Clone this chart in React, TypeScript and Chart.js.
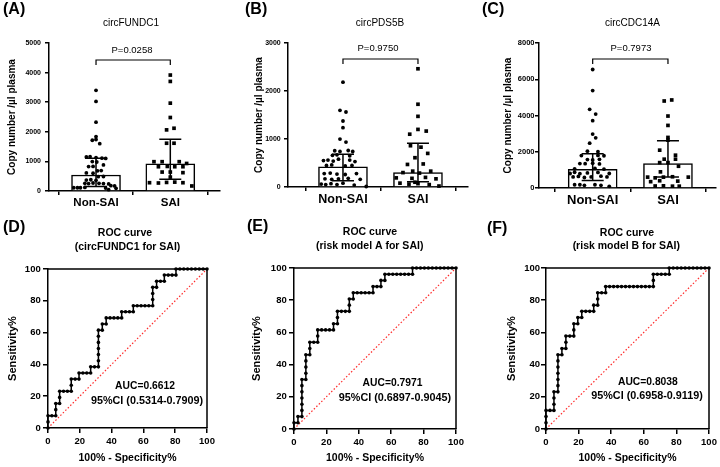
import React, { useEffect, useRef } from 'react';
import { Chart, registerables } from 'chart.js';

Chart.register(...registerables);
const FONT = "'Liberation Sans', Arial, Helvetica, sans-serif";
Chart.defaults.font.family = FONT;
Chart.defaults.color = '#000';

// ---------------- DATA ----------------
const groups = ['Non-SAI', 'SAI'];
const topYTitle = 'Copy number /µl plasma';
const rocXTitle = '100% - Specificity%';
const rocYTitle = 'Sensitivity%';

// Panel A  circFUNDC1
const aTitle = 'circFUNDC1';
const aP = 'P=0.0258';
const aYMax = 5000;
const aYStep = 1000;
const aNonSai: [number, number][] = [
  [1.0, 3400], [1.0, 3025], [1.0, 2325], [1.0, 1840], [0.95, 1715], [1.0, 1740], [1.05, 1600],
  [0.87, 1150], [0.92, 1160], [1.0, 1130], [1.08, 1110], [1.13, 1100],
  [0.95, 995], [1.01, 980], [1.1, 880], [0.9, 825], [0.96, 830],
  [1.02, 680], [1.07, 690], [0.87, 610], [0.96, 600], [1.03, 485],
  [1.1, 490], [0.87, 370], [0.93, 380], [1.0, 360],
  [0.85, 260], [0.9, 250], [0.96, 270], [1.04, 260], [1.1, 250], [1.17, 240],
  [1.2, 180], [1.25, 170],
  [0.7, 110], [0.75, 110], [0.79, 110], [0.85, 120], [1.13, 100], [1.27, 90],
  [1.17, 45],
];
const aSai: [number, number][] = [
  [2.0, 3917], [2.0, 3702], [2.0, 2968], [2.0, 2483], [2.05, 2120], [1.95, 2065], [1.95, 1614], [2.05, 1614],
  [1.78, 990], [1.89, 990], [2.12, 990], [2.22, 930], [1.84, 820], [1.96, 830], [2.06, 820], [2.17, 820],
  [1.89, 640], [2.0, 640], [2.17, 620], [1.72, 280], [1.84, 270], [1.95, 290], [2.06, 300], [2.17, 280],
  [2.29, 170], [2.0, 470],
];
const aMedian = [540, 914];
const aQ1 = [150, 395];
const aQ3 = [1106, 1750];

// Panel B  circPDS5B
const bTitle = 'circPDS5B';
const bP = 'P=0.9750';
const bYMax = 3000;
const bYStep = 1000;
const bNonSai: [number, number][] = [
  [1.0, 2184], [0.96, 1598], [1.04, 1563], [1.0, 1375], [1.0, 1235], [0.96, 998], [1.04, 935],
  [0.89, 755], [0.96, 740], [1.07, 760], [1.13, 740],
  [0.86, 660], [0.92, 670], [1.09, 650],
  [0.74, 550], [0.8, 560], [0.87, 540], [0.94, 580], [1.09, 560], [1.16, 530],
  [0.78, 450], [0.85, 460], [1.03, 440], [1.12, 450],
  [0.75, 280], [0.83, 290], [0.92, 270], [1.03, 260], [1.18, 280],
  [0.76, 170], [0.85, 160], [0.94, 170], [1.07, 180], [1.23, 160],
  [0.71, 60], [0.77, 50], [0.84, 70], [0.92, 50], [1.0, 80], [1.15, 40], [1.31, 10],
];
const bSai: [number, number][] = [
  [2.0, 2463], [2.0, 1724], [2.0, 1472], [2.0, 1200], [2.11, 1165], [1.89, 1100],
  [1.9, 860], [2.04, 830], [2.13, 700], [1.96, 610], [1.86, 470], [2.07, 480],
  [2.17, 330], [1.93, 330], [1.8, 300], [2.02, 290], [1.71, 190], [1.92, 180],
  [2.1, 200], [2.24, 170], [1.76, 80], [1.88, 60], [2.0, 70], [2.15, 50], [2.28, 20], [1.96, 100],
];
const bMedian = [419, 300];
const bQ1 = [130, 110];
const bQ3 = [684, 914];

// Panel C  circCDC14A
const cTitle = 'circCDC14A';
const cP = 'P=0.7973';
const cYMax = 8000;
const cYStep = 2000;
const cNonSai: [number, number][] = [
  [1.0, 6537], [1.0, 5374], [0.96, 4340], [1.04, 4081], [1.0, 3712], [1.0, 2973], [1.04, 2770], [0.96, 2475],
  [0.93, 2030], [1.07, 2000],
  [0.85, 1790], [1.07, 1800], [1.15, 1780],
  [0.93, 1570], [1.0, 1550], [1.09, 1580],
  [0.83, 1350], [0.9, 1340], [1.0, 1370], [1.09, 1330],
  [0.76, 1060], [1.03, 1080], [1.15, 1040],
  [0.7, 800], [0.76, 870], [0.83, 790], [0.93, 830], [1.07, 860], [1.22, 800],
  [0.74, 610], [0.81, 640], [0.89, 580], [0.98, 610], [1.11, 650], [1.19, 610],
  [0.76, 180], [0.83, 180], [0.89, 150], [1.03, 180], [1.11, 150], [1.22, 90],
];
const cSai: [number, number][] = [
  [1.95, 4800], [2.05, 4857], [2.0, 3970], [2.0, 3453], [2.0, 2790], [2.0, 2640], [1.89, 2087], [2.1, 1810],
  [1.95, 1590], [2.1, 1590], [1.89, 1400], [2.0, 1400], [2.14, 1200], [1.9, 890],
  [1.73, 600], [1.83, 560], [1.94, 600], [2.06, 620], [2.27, 600],
  [1.77, 350], [1.89, 400], [2.13, 380],
  [1.83, 110], [1.94, 120], [2.06, 100], [2.15, 100],
];
const cMedian = [1034, 1348];
const cQ1 = [420, 610];
const cQ3 = [1884, 2604];

// ROC panels
const rocTickStep = 20;
const dTitle = ['ROC curve', '(circFUNDC1 for SAI)'];
const dAuc = ['AUC=0.6612', '95%CI (0.5314-0.7909)'];
const rocD: [number, number][] = [
  [0, 0], [0, 3.85], [0, 7.69], [2.44, 7.69], [4.88, 7.69], [4.88, 11.54], [4.88, 15.38], [7.32, 15.38],
  [7.32, 19.23], [7.32, 23.08], [9.76, 23.08], [12.2, 23.08], [14.63, 23.08], [14.63, 26.92], [14.63, 30.77],
  [17.07, 30.77], [19.51, 30.77], [19.51, 34.62], [21.95, 34.62], [24.39, 34.62], [26.83, 34.62], [26.83, 38.46],
  [29.27, 38.46], [31.71, 38.46], [31.71, 42.31], [31.71, 46.15], [31.71, 50], [31.71, 53.85], [31.71, 57.69],
  [31.71, 61.54], [34.15, 61.54], [34.15, 65.38], [36.59, 65.38], [36.59, 69.23], [39.02, 69.23], [41.46, 69.23],
  [43.9, 69.23], [46.34, 69.23], [46.34, 73.08], [48.78, 73.08], [51.22, 73.08], [53.66, 73.08], [53.66, 76.92],
  [56.1, 76.92], [58.54, 76.92], [60.98, 76.92], [63.41, 76.92], [65.85, 76.92], [65.85, 80.77], [65.85, 84.62],
  [65.85, 88.46], [68.29, 88.46], [68.29, 92.31], [70.73, 92.31], [73.17, 92.31], [73.17, 96.15], [75.61, 96.15],
  [78.05, 96.15], [80.49, 96.15], [80.49, 100], [82.93, 100], [85.37, 100], [87.8, 100], [90.24, 100],
  [92.68, 100], [95.12, 100], [97.56, 100], [100, 100],
];
const eTitle = ['ROC curve', '(risk model A for SAI)'];
const eAuc = ['AUC=0.7971', '95%CI (0.6897-0.9045)'];
const rocE: [number, number][] = [
  [0, 0], [0, 3.85], [2.44, 3.85], [2.44, 7.69], [4.88, 7.69], [4.88, 11.54], [4.88, 15.38], [4.88, 19.23],
  [4.88, 23.08], [4.88, 26.92], [4.88, 30.77], [7.32, 30.77], [7.32, 34.62], [7.32, 38.46], [7.32, 42.31],
  [7.32, 46.15], [9.76, 46.15], [9.76, 50], [9.76, 53.85], [12.2, 53.85], [14.63, 53.85], [14.63, 57.69],
  [14.63, 61.54], [17.07, 61.54], [19.51, 61.54], [21.95, 61.54], [24.39, 61.54], [24.39, 65.38], [26.83, 65.38],
  [26.83, 69.23], [26.83, 73.08], [29.27, 73.08], [31.71, 73.08], [34.15, 73.08], [34.15, 76.92], [34.15, 80.77],
  [36.59, 80.77], [36.59, 84.62], [39.02, 84.62], [41.46, 84.62], [43.9, 84.62], [46.34, 84.62], [48.78, 84.62],
  [48.78, 88.46], [51.22, 88.46], [53.66, 88.46], [53.66, 92.31], [56.1, 92.31], [56.1, 96.15], [58.54, 96.15],
  [60.98, 96.15], [63.41, 96.15], [65.85, 96.15], [68.29, 96.15], [70.73, 96.15], [73.17, 96.15], [73.17, 100],
  [75.61, 100], [78.05, 100], [80.49, 100], [82.93, 100], [85.37, 100], [87.8, 100], [90.24, 100], [92.68, 100],
  [95.12, 100], [97.56, 100], [100, 100],
];
const fTitle = ['ROC curve', '(risk model B for SAI)'];
const fAuc = ['AUC=0.8038', '95%CI (0.6958-0.9119)'];
const rocF: [number, number][] = [
  [0, 0], [0, 3.85], [0, 7.69], [0, 11.54], [2.44, 11.54], [4.88, 11.54], [4.88, 15.38], [4.88, 19.23],
  [4.88, 23.08], [7.32, 23.08], [7.32, 26.92], [7.32, 30.77], [7.32, 34.62], [7.32, 38.46], [7.32, 42.31],
  [7.32, 46.15], [9.76, 46.15], [9.76, 50], [12.2, 50], [12.2, 53.85], [12.2, 57.69], [14.63, 57.69],
  [17.07, 57.69], [17.07, 61.54], [17.07, 65.38], [19.51, 65.38], [19.51, 69.23], [21.95, 69.23], [21.95, 73.08],
  [24.39, 73.08], [26.83, 73.08], [29.27, 73.08], [29.27, 76.92], [31.71, 76.92], [31.71, 80.77], [31.71, 84.62],
  [34.15, 84.62], [36.59, 84.62], [36.59, 88.46], [39.02, 88.46], [41.46, 88.46], [43.9, 88.46], [46.34, 88.46],
  [48.78, 88.46], [51.22, 88.46], [53.66, 88.46], [56.1, 88.46], [58.54, 88.46], [60.98, 88.46], [63.41, 88.46],
  [65.85, 88.46], [65.85, 92.31], [65.85, 96.15], [68.29, 96.15], [70.73, 96.15], [73.17, 96.15], [75.61, 96.15],
  [75.61, 100], [78.05, 100], [80.49, 100], [82.93, 100], [85.37, 100], [87.8, 100], [90.24, 100], [92.68, 100],
  [95.12, 100], [97.56, 100], [100, 100],
];

// ---------------- LAYOUT / STYLE ----------------
type Box = { x: number; y: number; w: number; h: number };
type Area = { l: number; t: number; r: number; b: number };
type Txt = { t: string; x: number; y: number; size: number; bold?: boolean; align?: CanvasTextAlign; data?: boolean };

function drawTexts(chart: any, texts: Txt[], box: Box) {
  const ctx = chart.ctx;
  ctx.save();
  ctx.fillStyle = '#000';
  ctx.textBaseline = 'middle';
  for (const t of texts) {
    ctx.font = `${t.bold ? 'bold ' : ''}${t.size}px ${FONT}`;
    ctx.textAlign = t.align || 'center';
    let x = t.x - box.x;
    let y = t.y - box.y;
    if (t.data) {
      x = chart.scales.x.getPixelForValue(t.x);
      y = chart.scales.y.getPixelForValue(t.y);
    }
    ctx.fillText(t.t, x, y);
  }
  ctx.restore();
}

const border = { display: true, color: '#000', width: 1.5 };
const grid = (tl: number) => ({ drawOnChartArea: false, drawTicks: true, tickLength: tl, color: '#000', lineWidth: 1.5 });

type TopSpec = {
  box: Box; area: Area; xMin: number; xMax: number; yMax: number; yStep: number;
  non: [number, number][]; sai: [number, number][]; med: number[]; q1: number[]; q3: number[];
  texts: Txt[]; bracketY: number; tickSize: number; tickPad: number; catSize: number; catPad: number; yTitlePad: number;
};

function topConfig(s: TopSpec): any {
  const L = s.area.l - s.box.x, T = s.area.t - s.box.y, R = s.area.r - s.box.x, B = s.area.b - s.box.y;
  const annot = {
    id: 'annotTop',
    afterDatasetsDraw(chart: any) {
      const ctx = chart.ctx;
      const xs = chart.scales.x, ys = chart.scales.y;
      ctx.save();
      ctx.strokeStyle = '#000';
      ctx.lineWidth = 1.5;
      for (let i = 0; i < 2; i++) {
        const cx = xs.getPixelForValue(i + 1);
        const y1 = ys.getPixelForValue(s.q1[i]);
        const y3 = ys.getPixelForValue(s.q3[i]);
        ctx.beginPath();
        ctx.moveTo(cx, y1); ctx.lineTo(cx, y3);
        ctx.moveTo(cx - 11, y1); ctx.lineTo(cx + 11, y1);
        ctx.moveTo(cx - 11, y3); ctx.lineTo(cx + 11, y3);
        ctx.stroke();
      }
      const by = s.bracketY - s.box.y;
      const x1 = xs.getPixelForValue(1), x2 = xs.getPixelForValue(2);
      ctx.lineWidth = 1.2;
      ctx.beginPath();
      ctx.moveTo(x1, by + 5); ctx.lineTo(x1, by); ctx.lineTo(x2, by); ctx.lineTo(x2, by + 5);
      ctx.stroke();
      ctx.restore();
    },
    afterDraw(chart: any) { drawTexts(chart, s.texts, s.box); },
  };
  return {
    type: 'bar',
    data: {
      datasets: [
        { type: 'bar', data: s.med.map((v, i) => ({ x: i + 1, y: v })), backgroundColor: '#fff', borderColor: '#000', borderWidth: 1.5, barThickness: 49, order: 3 },
        { type: 'scatter', data: s.non.map(([x, y]) => ({ x, y })), pointStyle: 'circle', pointRadius: 1.9, backgroundColor: '#000', borderColor: '#000', borderWidth: 0, order: 1, clip: false },
        { type: 'scatter', data: s.sai.map(([x, y]) => ({ x, y })), pointStyle: 'rect', pointRadius: 2.6, backgroundColor: '#000', borderColor: '#000', borderWidth: 0, order: 1, clip: false },
      ],
    },
    options: {
      responsive: false, animation: false, events: [],
      layout: { padding: { left: 0, top: T, right: s.box.w - R, bottom: 0 } },
      plugins: { legend: { display: false }, tooltip: { enabled: false } },
      scales: {
        x: {
          type: 'linear', min: s.xMin, max: s.xMax, offset: false,
          afterBuildTicks: (sc: any) => { sc.ticks = [{ value: 1 }, { value: 2 }]; },
          afterFit: (sc: any) => { sc.height = s.box.h - B; },
          ticks: { autoSkip: false, maxRotation: 0, padding: s.catPad, font: { size: s.catSize, weight: 'bold' }, callback: (v: any) => groups[Math.round(v) - 1] ?? '' },
          grid: grid(4), border,
        },
        y: {
          type: 'linear', min: 0, max: s.yMax,
          afterFit: (sc: any) => { sc.width = L; },
          ticks: { stepSize: s.yStep, padding: s.tickPad, font: { size: s.tickSize, weight: 'bold' }, callback: (v: any) => String(v) },
          grid: grid(4), border,
          title: { display: true, text: topYTitle, font: { size: 10, weight: 'bold' }, padding: { top: s.yTitlePad, bottom: 0 } },
        },
      },
    },
    plugins: [annot],
  };
}

type RocSpec = { box: Box; area: Area; pts: [number, number][]; texts: Txt[]; yTitlePad: number; tickPad: number };

function rocConfig(s: RocSpec): any {
  const L = s.area.l - s.box.x, T = s.area.t - s.box.y, R = s.area.r - s.box.x, B = s.area.b - s.box.y;
  const annot = {
    id: 'annotRoc',
    afterDraw(chart: any) {
      const ctx = chart.ctx;
      const a = chart.chartArea;
      ctx.save();
      ctx.strokeStyle = '#000';
      ctx.lineWidth = 1.5;
      ctx.beginPath();
      ctx.moveTo(a.left, a.top); ctx.lineTo(a.right, a.top); ctx.lineTo(a.right, a.bottom);
      ctx.stroke();
      ctx.restore();
      drawTexts(chart, s.texts, s.box);
    },
  };
  const axis = (title: string, isY: boolean) => ({
    type: 'linear', min: 0, max: 100,
    ticks: { stepSize: rocTickStep, padding: isY ? s.tickPad : 2.5, font: { size: 9.5, weight: 'bold' }, callback: (v: any) => String(v) },
    grid: grid(5), border,
    afterFit: (sc: any) => { if (isY) sc.width = L; else sc.height = s.box.h - B; },
    title: {
      display: true, text: title,
      font: { size: isY ? 11 : 10.5, weight: 'bold' },
      padding: isY ? { top: s.yTitlePad, bottom: 0 } : { top: 0, bottom: 2.7 },
    },
  });
  return {
    type: 'scatter',
    data: {
      datasets: [
        { data: [{ x: 0, y: 0 }, { x: 100, y: 100 }], showLine: true, borderColor: '#ff2a2a', borderWidth: 1.2, borderDash: [1.5, 2], pointRadius: 0, order: 2 },
        { data: s.pts.map(([x, y]) => ({ x, y })), showLine: true, borderColor: '#000', borderWidth: 1.5, pointRadius: 1.8, pointBackgroundColor: '#000', pointBorderWidth: 0, order: 1, clip: false },
      ],
    },
    options: {
      responsive: false, animation: false, events: [],
      layout: { padding: { left: 0, top: T, right: s.box.w - R, bottom: 0 } },
      plugins: { legend: { display: false }, tooltip: { enabled: false } },
      scales: { x: axis(rocXTitle, false), y: axis(rocYTitle, true) },
    },
    plugins: [annot],
  };
}

const specA: TopSpec = {
  box: { x: 0, y: 0, w: 240, h: 210 }, area: { l: 49, t: 43, r: 220, b: 191 },
  xMin: 0.367, xMax: 2.669, yMax: aYMax, yStep: aYStep, non: aNonSai, sai: aSai, med: aMedian, q1: aQ1, q3: aQ3,
  bracketY: 60, tickSize: 7, tickPad: 4, catSize: 11.5, catPad: 1, yTitlePad: 6.5,
  texts: [
    { t: '(A)', x: 3, y: 9.5, size: 16, bold: true, align: 'left' },
    { t: aTitle, x: 131, y: 23, size: 10 },
    { t: aP, x: 132, y: 50, size: 9.5 },
  ],
};
const specB: TopSpec = {
  box: { x: 240, y: 0, w: 240, h: 210 }, area: { l: 288, t: 43, r: 468, b: 187 },
  xMin: 0.267, xMax: 2.667, yMax: bYMax, yStep: bYStep, non: bNonSai, sai: bSai, med: bMedian, q1: bQ1, q3: bQ3,
  bracketY: 59, tickSize: 7, tickPad: 3.3, catSize: 12.5, catPad: 1, yTitlePad: 13,
  texts: [
    { t: '(B)', x: 245, y: 9.5, size: 16, bold: true, align: 'left' },
    { t: bTitle, x: 380, y: 23, size: 10 },
    { t: bP, x: 378, y: 48.5, size: 9.5 },
  ],
};
const specC: TopSpec = {
  box: { x: 480, y: 0, w: 240, h: 210 }, area: { l: 539, t: 43, r: 717, b: 188 },
  xMin: 0.287, xMax: 2.638, yMax: cYMax, yStep: cYStep, non: cNonSai, sai: cSai, med: cMedian, q1: cQ1, q3: cQ3,
  bracketY: 59, tickSize: 7.5, tickPad: 0.5, catSize: 13, catPad: 1, yTitlePad: 22,
  texts: [
    { t: '(C)', x: 482, y: 9.5, size: 16, bold: true, align: 'left' },
    { t: cTitle, x: 632.5, y: 23, size: 10 },
    { t: cP, x: 631, y: 48.5, size: 9.5 },
  ],
};
const specD: RocSpec = {
  box: { x: 0, y: 210, w: 240, h: 257 }, area: { l: 48, t: 269, r: 207, b: 428 }, pts: rocD, yTitlePad: 6.4, tickPad: 2.3,
  texts: [
    { t: '(D)', x: 3, y: 227.5, size: 16, bold: true, align: 'left' },
    { t: dTitle[0], x: 125, y: 233, size: 10.5, bold: true },
    { t: dTitle[1], x: 127.5, y: 247, size: 10.5, bold: true },
    { t: dAuc[0], x: 61, y: 26.6, size: 10.3, bold: true, data: true },
    { t: dAuc[1], x: 62.3, y: 17.2, size: 10.8, bold: true, data: true },
  ],
};
const specE: RocSpec = {
  box: { x: 240, y: 210, w: 240, h: 257 }, area: { l: 294, t: 268, r: 456, b: 429 }, pts: rocE, yTitlePad: 10.1, tickPad: 2.3,
  texts: [
    { t: '(E)', x: 247, y: 226.5, size: 16, bold: true, align: 'left' },
    { t: eTitle[0], x: 370, y: 232.5, size: 10.5, bold: true },
    { t: eTitle[1], x: 369.7, y: 246.5, size: 10.5, bold: true },
    { t: eAuc[0], x: 60.8, y: 28.6, size: 10.3, bold: true, data: true },
    { t: eAuc[1], x: 62.3, y: 19.4, size: 10.8, bold: true, data: true },
  ],
};
const specF: RocSpec = {
  box: { x: 480, y: 210, w: 240, h: 257 }, area: { l: 546, t: 268, r: 709, b: 429 }, pts: rocF, yTitlePad: 25.7, tickPad: 1,
  texts: [
    { t: '(F)', x: 487, y: 228.5, size: 16, bold: true, align: 'left' },
    { t: fTitle[0], x: 627, y: 233, size: 10.5, bold: true },
    { t: fTitle[1], x: 626.3, y: 246.5, size: 10.5, bold: true },
    { t: fAuc[0], x: 62.5, y: 29.4, size: 10.3, bold: true, data: true },
    { t: fAuc[1], x: 62, y: 20.7, size: 10.8, bold: true, data: true },
  ],
};

function ChartCanvas({ box, build }: { box: Box; build: () => any }) {
  const ref = useRef<HTMLCanvasElement | null>(null);
  useEffect(() => {
    if (!ref.current) return;
    const chart = new Chart(ref.current, build());
    return () => chart.destroy();
  }, []);
  return (
    <canvas
      ref={ref}
      width={box.w}
      height={box.h}
      style={{ position: 'absolute', left: box.x, top: box.y, width: box.w, height: box.h, display: 'block' }}
    />
  );
}

export default function App() {
  return (
    <div style={{ position: 'fixed', left: 0, top: 0, width: 720, height: 467, background: '#fff', overflow: 'hidden' }}>
      <ChartCanvas box={specA.box} build={() => topConfig(specA)} />
      <ChartCanvas box={specB.box} build={() => topConfig(specB)} />
      <ChartCanvas box={specC.box} build={() => topConfig(specC)} />
      <ChartCanvas box={specD.box} build={() => rocConfig(specD)} />
      <ChartCanvas box={specE.box} build={() => rocConfig(specE)} />
      <ChartCanvas box={specF.box} build={() => rocConfig(specF)} />
    </div>
  );
}
